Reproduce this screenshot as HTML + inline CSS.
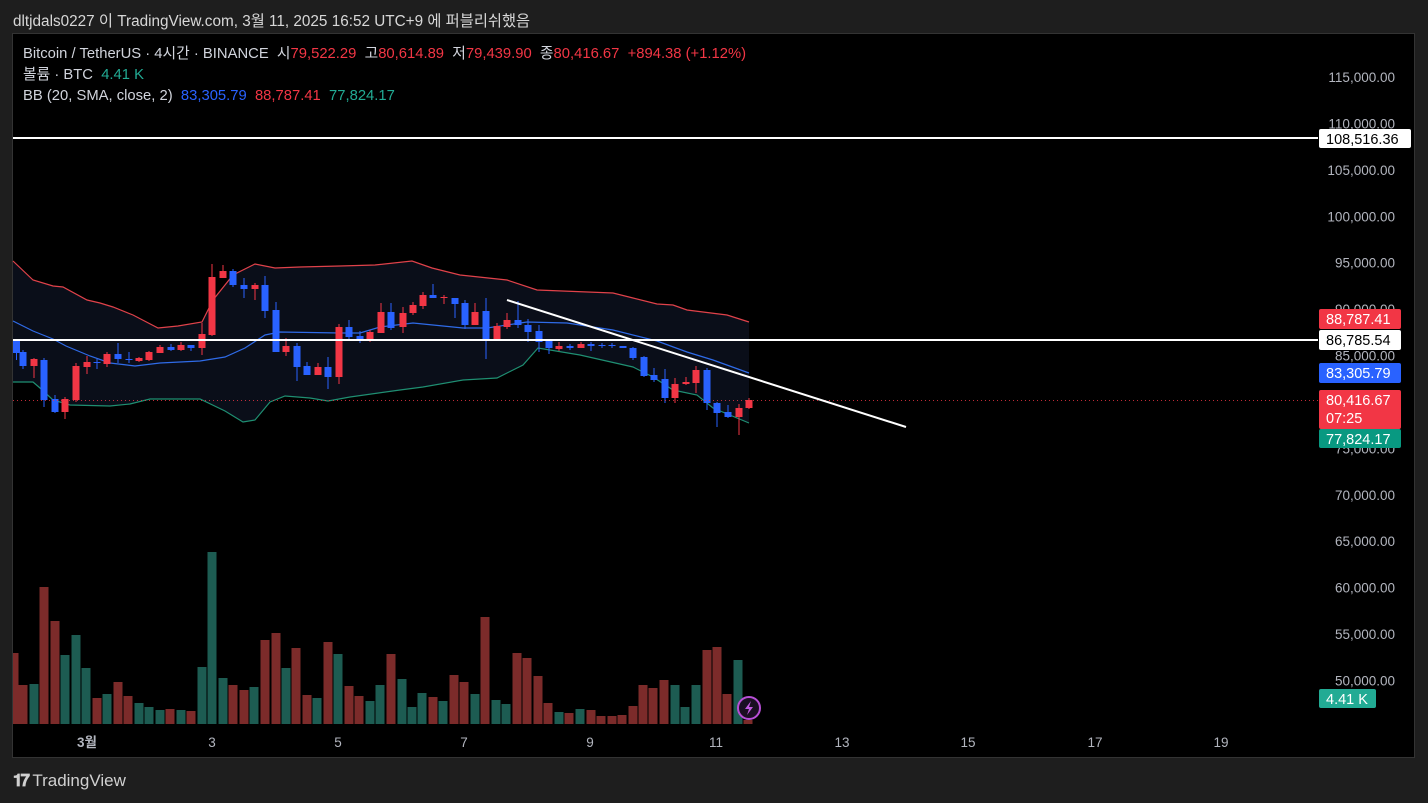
<!DOCTYPE html>
<html><head><meta charset="utf-8"><style>
body{margin:0;background:#1e1e1e;width:1428px;height:803px;overflow:hidden;font-family:"Liberation Sans","Noto Sans CJK KR",sans-serif;}
#top{position:absolute;left:13px;top:9px;font-size:15.3px;color:#d8d8d8;}
#chart{position:absolute;left:12px;top:33px;width:1403px;height:725px;background:#000;border:1px solid #333;box-sizing:border-box;}
.lg{position:absolute;left:23px;font-size:14.8px;line-height:18px;color:#d1d4dc;white-space:nowrap}
.r{color:#f23645}.g{color:#22ab94}.b{color:#2962ff}
#logo{position:absolute;left:13px;top:771px;font-size:17px;color:#d0d0d0;}
</style></head><body>
<div id="top">dltjdals0227 이 TradingView.com, 3월 11, 2025 16:52 UTC+9 에 퍼블리쉬했음</div>
<div id="chart"></div>
<svg id="s" width="1428" height="803" style="position:absolute;left:0;top:0" font-family="Liberation Sans, sans-serif"></svg>
<div class="lg" style="top:45px">Bitcoin / TetherUS · 4시간 · BINANCE &nbsp;시<span class="r">79,522.29</span> &nbsp;고<span class="r">80,614.89</span> &nbsp;저<span class="r">79,439.90</span> &nbsp;종<span class="r">80,416.67</span> &nbsp;<span class="r">+894.38 (+1.12%)</span></div>
<div class="lg" style="top:66px">볼륨 · BTC &nbsp;<span class="g">4.41 K</span></div>
<div class="lg" style="top:87px">BB (20, SMA, close, 2) &nbsp;<span class="b">83,305.79</span> &nbsp;<span class="r">88,787.41</span> &nbsp;<span class="g">77,824.17</span></div>
<div id="logo"><b style="letter-spacing:-2px">𝟏𝟕</b> TradingView</div>
<script>
var s=document.getElementById('s'),h='';
function y(p){return 77+(115000-p)*0.009284;}
var up=[[13,261],[33,280],[53,286],[63,287],[87,300],[100,303],[113,307],[133,315],[158,328],[178,326],[202,322],[213,300],[233,275],[255,264],[275,268],[300,267],[340,266],[375,265],[412,261],[432,268],[460,275],[507,280],[537,290],[613,293],[633,298],[657,304],[673,305],[687,310],[727,315],[749,322]];
var mid=[[13,321],[33,331],[53,339],[66,346],[90,356],[110,363],[135,366],[160,363],[200,361],[225,357],[245,348],[265,335],[280,332],[340,333],[360,333],[380,327],[413,323],[463,328],[487,328],[527,322],[567,323],[613,330],[657,341],[687,352],[713,360],[749,373]];
var lo=[[13,382],[33,382],[40,388],[53,400],[70,405],[110,406],[130,404],[150,399],[200,399],[225,411],[243,422],[255,420],[270,402],[285,396],[310,398],[328,401],[350,397],[400,390],[423,387],[463,380],[497,378],[523,365],[538,348],[580,355],[633,367],[653,377],[673,390],[697,395],[713,408],[749,423]];
function pl(a){return a.map(function(p){return p.join(',')}).join(' ');}
h+='<polygon points="'+pl(up)+' '+pl(lo.slice().reverse())+'" fill="#0a0e19"/>';
for(var p=115000;p>=50000;p-=5000){h+='<text x="1395" y="'+(y(p)+5)+'" fill="#b2b5be" font-size="13.5" text-anchor="end">'+p.toLocaleString('en-US')+'.00</text>';}
var vol=[[14,653,0],[23,685,0],[34,684,1],[44,587,0],[55,621,0],[65,655,1],[76,635,1],[86,668,1],[97,698,0],[107,694,1],[118,682,0],[128,696,0],[139,703,1],[149,707,1],[160,710,1],[170,709,0],[181,710,1],[191,711,0],[202,667,1],[212,552,1],[223,678,1],[233,685,0],[244,690,0],[254,687,1],[265,640,0],[276,633,0],[286,668,1],[296,648,0],[307,695,0],[317,698,1],[328,642,0],[338,654,1],[349,686,0],[359,696,0],[370,701,1],[380,685,1],[391,654,0],[402,679,1],[412,707,1],[422,693,1],[433,697,0],[443,701,1],[454,675,0],[464,682,0],[475,694,1],[485,617,0],[496,700,1],[506,704,1],[517,653,0],[527,658,0],[538,676,0],[548,703,0],[559,712,1],[569,713,0],[580,709,1],[591,710,0],[601,716,0],[612,716,0],[622,715,0],[633,706,0],[643,685,0],[653,688,0],[664,680,0],[675,685,1],[685,707,1],[696,685,1],[707,650,0],[717,647,0],[727,694,0],[738,660,1],[748,720,0]];
vol.forEach(function(v){var x0=Math.max(13,v[0]-4.5),x1=v[0]+4.5;h+='<rect x="'+x0+'" y="'+v[1]+'" width="'+(x1-x0)+'" height="'+(724-v[1])+'" fill="'+(v[2]?'#1d5c52':'#7c2b2a')+'"/>';});
h+='<polyline points="'+pl(up)+'" fill="none" stroke="#e0424a" stroke-width="1.2"/>';
h+='<polyline points="'+pl(mid)+'" fill="none" stroke="#2f6be8" stroke-width="1.2"/>';
h+='<polyline points="'+pl(lo)+'" fill="none" stroke="#1f8f72" stroke-width="1.2"/>';
var c=[[14,0,340,353,340,360],[23,0,352,366,350,369],[34,1,359,366,358,378],[44,0,360,400,358,407],[55,0,399,412,395,413],[65,1,399,412,397,419],[76,1,366,400,363,402],[87,1,362,367,356,374],[97,0,362,363,359,369],[107,1,354,364,352,367],[118,0,354,359,343,363],[129,0,359,360,352,363],[139,1,358,361,357,362],[149,1,352,360,351,361],[160,1,347,353,345,353],[171,0,347,350,344,351],[181,1,345,350,342,351],[191,0,345,348,345,351],[202,1,334,348,323,355],[212,1,277,335,264,336],[223,1,271,278,265,278],[233,0,271,285,269,287],[244,0,285,289,278,298],[255,1,285,289,283,300],[265,0,285,311,276,318],[276,0,310,352,302,352],[286,1,346,352,338,356],[297,0,346,367,343,381],[307,0,366,375,362,375],[318,1,367,375,363,375],[328,0,367,377,357,389],[339,1,327,377,324,384],[349,0,327,337,320,341],[360,0,336,341,331,343],[370,1,332,340,330,342],[381,1,312,333,303,333],[391,0,312,328,303,330],[403,1,313,327,307,333],[413,1,305,313,302,315],[423,1,295,306,292,309],[433,0,295,298,284,298],[444,1,297,298,295,304],[455,0,298,304,298,318],[465,0,303,325,300,329],[475,1,312,325,303,325],[486,0,311,339,298,359],[497,1,326,339,323,340],[507,1,320,327,313,329],[518,0,320,325,301,328],[528,0,325,332,319,342],[539,0,331,342,325,352],[549,0,340,348,339,354],[559,1,346,349,342,351],[570,0,346,348,344,350],[581,1,344,348,342,348],[591,0,344,346,342,351],[602,0,345,346,343,348],[612,0,345,346,343,348],[623,0,346,348,346,348],[633,0,348,358,347,360],[644,0,357,376,356,377],[654,0,375,380,368,382],[665,0,379,398,369,403],[675,1,384,398,378,403],[686,1,382,384,377,385],[696,1,370,383,366,393],[707,0,370,403,368,410],[717,0,403,413,402,427],[728,0,412,417,405,418],[739,1,408,417,404,435],[749,1,400,408,398,409]];
c.forEach(function(k){var col=k[1]?'#f23645':'#2962ff';var x=Math.max(k[0],16.5);
h+='<line x1="'+x+'" y1="'+k[4]+'" x2="'+x+'" y2="'+k[5]+'" stroke="'+col+'" stroke-width="1"/>';
h+='<rect x="'+(x-3.5)+'" y="'+k[2]+'" width="7" height="'+Math.max(1,k[3]-k[2])+'" fill="'+col+'"/>';});
h+='<line x1="13" y1="400.5" x2="1318" y2="400.5" stroke="#f23645" stroke-width="1" stroke-dasharray="1,3" opacity="0.8"/>';
h+='<line x1="13" y1="138" x2="1318" y2="138" stroke="#fff" stroke-width="2"/>';
h+='<line x1="13" y1="340" x2="1318" y2="340" stroke="#fff" stroke-width="2"/>';
h+='<line x1="507" y1="300" x2="906" y2="427" stroke="#fff" stroke-width="2"/>';
function lab(yy,hh,bg,fg,t,w){h+='<rect x="1319" y="'+yy+'" width="'+(w||82)+'" height="'+hh+'" rx="2" fill="'+bg+'"/>';h+='<text x="1326" y="'+(yy+15)+'" fill="'+fg+'" font-size="14.5">'+t+'</text>';}
lab(129,19,'#fff','#000','108,516.36',92);
lab(309,20,'#f23645','#fff','88,787.41');
lab(330,20,'#fff','#000','86,785.54');
lab(363,20,'#2962ff','#fff','83,305.79');
lab(390,39,'#f23645','#fff','80,416.67');
h+='<text x="1326" y="423" fill="#fff" font-size="14.5">07:25</text>';
lab(429,19,'#089981','#fff','77,824.17');
lab(689,19,'#22ab94','#fff','4.41 K',57);
h+='<circle cx="749" cy="708" r="11" fill="#1a0f22" stroke="#b84fd6" stroke-width="2"/><path d="M751,701 L745,709 L749,709 L747,715 L753,707 L749,707 Z" fill="#c25be0"/>';
[['3월',87],['3',212],['5',338],['7',464],['9',590],['11',716],['13',842],['15',968],['17',1095],['19',1221]].forEach(function(t){h+='<text x="'+t[1]+'" y="747" fill="#b2b5be" font-size="13.5" text-anchor="middle" font-family="Liberation Sans, Noto Sans CJK KR, sans-serif" '+(t[0]=='3월'?'font-weight="bold"':'')+'>'+t[0]+'</text>';});
s.innerHTML=h;
</script>
</body></html>
